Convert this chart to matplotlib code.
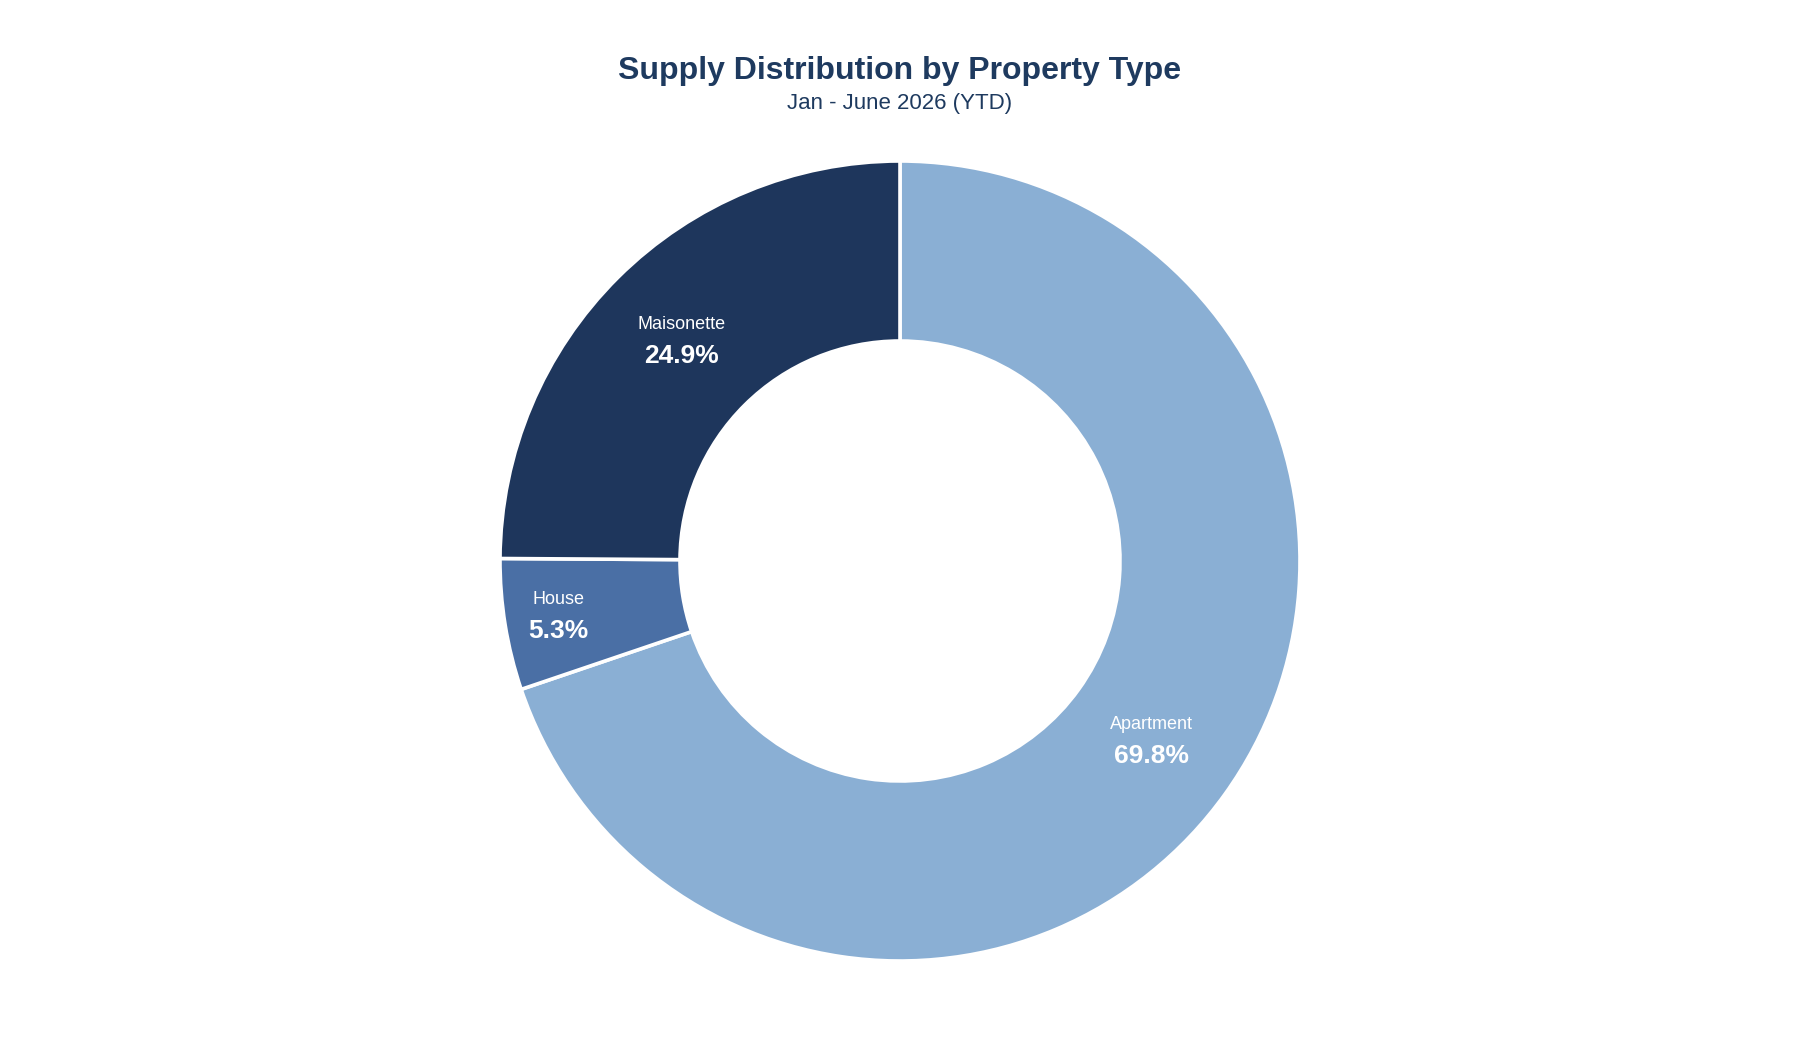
import matplotlib
matplotlib.use("Agg")
import matplotlib.pyplot as plt
import numpy as np

plt.rcParams["font.family"] = ["Liberation Sans", "DejaVu Sans"]

categories = ["Apartment", "House", "Maisonette"]
shares = [69.8, 5.3, 24.9]
colors = ["#8aafd4", "#4a6fa5", "#1e365c"]
title = "Supply Distribution by Property Type"
subtitle = "Jan - June 2026 (YTD)"

W, H = 1800, 1040
fig = plt.figure(figsize=(W / 100, H / 100), dpi=100)

# donut centre and radius in pixels (from top-left)
cx, cy, r = 900, 561, 400
ax = fig.add_axes([(cx - r) / W, (H - cy - r) / H, 2 * r / W, 2 * r / H])

hole = 0.55
wedges, _ = ax.pie(
    shares,
    colors=colors,
    startangle=90,
    counterclock=False,
    radius=1.0,
    wedgeprops=dict(width=1 - hole, edgecolor="white", linewidth=2.6),
)
ax.set_xlim(-1, 1)
ax.set_ylim(-1, 1)
ax.set_aspect("equal")
ax.axis("off")

# labels at the middle of the ring (small slice pushed a bit outward)
label_r = {"House": 0.865}
for w, name, val in zip(wedges, categories, shares):
    mid = np.deg2rad((w.theta1 + w.theta2) / 2)
    rr = label_r.get(name, (1 + hole) / 2)
    x, y = rr * np.cos(mid), rr * np.sin(mid)
    ax.text(x, y + 0.042, name, ha="center", va="center", color="white", fontsize=13)
    ax.text(x, y - 0.037, f"{val:.1f}%", ha="center", va="center", color="white",
            fontsize=19, fontweight="bold")

fig.text(0.5, 1 - 71 / H, title, ha="center", va="center", fontsize=23,
         fontweight="bold", color="#1e3a5f")
fig.text(0.5, 1 - 103 / H, subtitle, ha="center", va="center", fontsize=16,
         color="#1e3a5f")

fig.savefig("out.png", dpi=100, facecolor="white")
